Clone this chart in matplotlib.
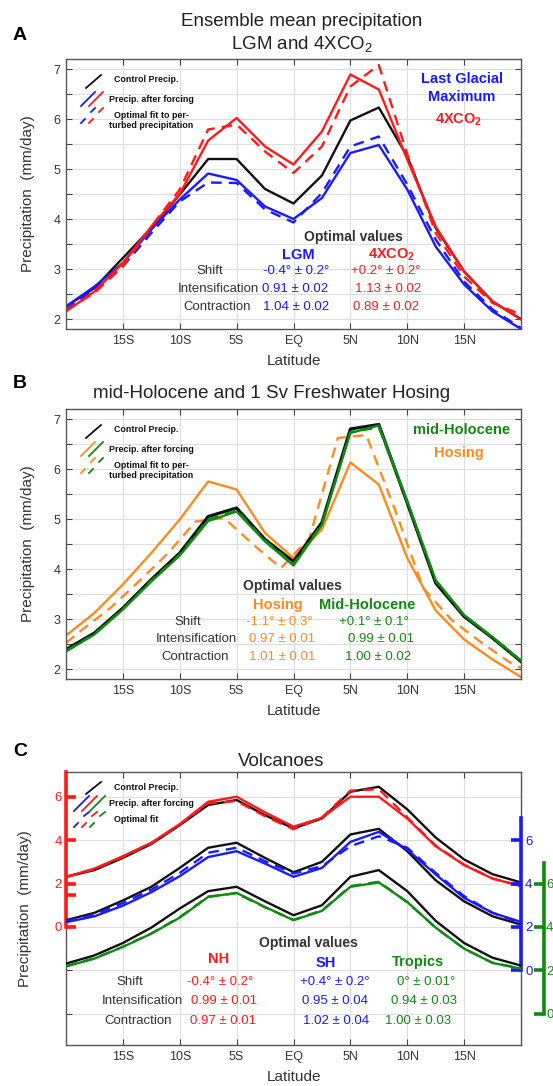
import matplotlib
matplotlib.use("Agg")
import matplotlib.pyplot as plt

plt.rcParams["font.family"] = ["Liberation Sans", "DejaVu Sans"]
plt.rcParams["mathtext.fontset"] = "custom"
plt.rcParams["mathtext.rm"] = "Liberation Sans"
plt.rcParams["mathtext.bf"] = "Liberation Sans:bold"
plt.rcParams["mathtext.it"] = "Liberation Sans:italic"

# ---------------- data ----------------
lat = [-20, -17.5, -15, -12.5, -10, -7.5, -5, -2.5, 0, 2.5, 5, 7.5, 10, 12.5, 15, 17.5, 20]
lat_ticks = [-15, -10, -5, 0, 5, 10, 15]
lat_labels = ["15S", "10S", "5S", "EQ", "5N", "10N", "15N"]

# panel A: LGM and 4xCO2
ctrl_a = [2.25, 2.62, 3.22, 3.82, 4.49, 5.20, 5.20, 4.60, 4.31, 4.87, 5.97, 6.23, 5.25, 3.82, 2.95, 2.35, 2.00]
co2 = [2.15, 2.55, 3.12, 3.85, 4.50, 5.57, 6.02, 5.45, 5.09, 5.75, 6.89, 6.59, 5.19, 3.85, 2.95, 2.35, 1.99]
co2_fit = [2.18, 2.52, 3.05, 3.85, 4.59, 5.79, 5.89, 5.35, 4.92, 5.45, 6.65, 7.08, 5.30, 3.72, 2.85, 2.32, 2.09]
lgm = [2.25, 2.65, 3.12, 3.79, 4.39, 4.91, 4.78, 4.25, 4.00, 4.42, 5.32, 5.48, 4.59, 3.45, 2.69, 2.15, 1.80]
lgm_fit = [2.19, 2.59, 3.05, 3.72, 4.35, 4.73, 4.72, 4.19, 3.93, 4.52, 5.45, 5.65, 4.69, 3.59, 2.75, 2.19, 1.82]

# panel B: mid-Holocene and hosing
ctrl_b = [2.39, 2.72, 3.22, 3.79, 4.32, 5.05, 5.22, 4.59, 4.15, 4.93, 6.80, 6.89, 5.32, 3.72, 3.05, 2.62, 2.15]
mh = [2.35, 2.69, 3.19, 3.75, 4.27, 4.96, 5.15, 4.55, 4.07, 4.88, 6.72, 6.87, 5.36, 3.78, 3.08, 2.64, 2.17]
mh_fit = [2.36, 2.70, 3.20, 3.77, 4.29, 4.99, 5.18, 4.57, 4.10, 4.90, 6.74, 6.83, 5.34, 3.76, 3.07, 2.63, 2.16]
hosing = [2.67, 3.12, 3.69, 4.32, 4.99, 5.75, 5.59, 4.72, 4.22, 4.79, 6.13, 5.69, 4.22, 3.17, 2.59, 2.19, 1.84]
lat_hosing_fit = [-20, -18.6, -16.1, -13.6, -11.1, -8.6, -6.1, -3.6, -1.1, 1.4, 3.9, 6.4, 8.9, 11.4, 13.9, 16.4, 18.9, 20]
hosing_fit = [2.52, 2.78, 3.22, 3.75, 4.30, 4.95, 5.02, 4.50, 4.02, 4.62, 6.62, 6.68, 5.20, 3.62, 2.98, 2.55, 2.15, 2.02]

# panel C: volcanoes (each set on its own axis)
ctrl_nh = [2.31, 2.62, 3.18, 3.82, 4.69, 5.62, 5.85, 5.15, 4.54, 5.00, 6.23, 6.46, 5.42, 4.12, 3.11, 2.43, 2.05]
nh = [2.31, 2.69, 3.26, 3.88, 4.74, 5.77, 6.00, 5.28, 4.62, 5.03, 6.00, 6.00, 5.00, 3.72, 2.85, 2.23, 1.88]
nh_fit = [2.30, 2.66, 3.22, 3.85, 4.72, 5.70, 5.80, 5.10, 4.50, 5.05, 6.28, 6.35, 5.05, 3.75, 2.87, 2.23, 1.90]
ctrl_sh = [2.31, 2.65, 3.22, 3.85, 4.72, 5.65, 5.88, 5.18, 4.52, 5.00, 6.26, 6.52, 5.49, 4.15, 3.18, 2.49, 2.11]
sh = [2.22, 2.49, 2.98, 3.60, 4.34, 5.22, 5.49, 4.92, 4.31, 4.72, 5.92, 6.38, 5.57, 4.42, 3.34, 2.65, 2.23]
sh_fit = [2.26, 2.57, 3.10, 3.72, 4.49, 5.42, 5.65, 5.03, 4.46, 4.80, 5.72, 6.18, 5.65, 4.49, 3.42, 2.65, 2.18]
ctrl_tr = [2.31, 2.69, 3.26, 3.97, 4.85, 5.65, 5.85, 5.18, 4.54, 5.00, 6.31, 6.62, 5.65, 4.28, 3.26, 2.58, 2.22]
tr = [2.18, 2.54, 3.08, 3.69, 4.43, 5.38, 5.57, 4.92, 4.31, 4.74, 5.85, 6.05, 5.15, 3.97, 3.00, 2.34, 2.08]
tr_fit = [2.20, 2.56, 3.09, 3.70, 4.45, 5.40, 5.55, 4.90, 4.33, 4.76, 5.88, 6.08, 5.14, 3.96, 3.00, 2.35, 2.09]

row_names = ["Shift", "Intensification", "Contraction"]
vals_lgm = ["-0.4\u00b0 \u00b1 0.2\u00b0", "0.91 \u00b1 0.02", "1.04 \u00b1 0.02"]
vals_co2 = ["+0.2\u00b0 \u00b1 0.2\u00b0", "1.13 \u00b1 0.02", "0.89 \u00b1 0.02"]
vals_hos = ["-1.1\u00b0 \u00b1 0.3\u00b0", "0.97 \u00b1 0.01", "1.01 \u00b1 0.01"]
vals_mh = ["+0.1\u00b0 \u00b1 0.1\u00b0", "0.99 \u00b1 0.01", "1.00 \u00b1 0.02"]
vals_nh = ["-0.4\u00b0 \u00b1 0.2\u00b0", "0.99 \u00b1 0.01", "0.97 \u00b1 0.01"]
vals_sh = ["+0.4\u00b0 \u00b1 0.2\u00b0", "0.95 \u00b1 0.04", "1.02 \u00b1 0.04"]
vals_tr = ["0\u00b0 \u00b1 0.01\u00b0", "0.94 \u00b1 0.03", "1.00 \u00b1 0.03"]

# ---------------- style ----------------
RED = "#ff1a1a"
BLUE = "#1a1aff"
GREEN = "#108a10"
ORANGE = "#ff8a1c"
BLACK = "#111111"
GRAY_TXT = "#333333"
LW = 1.7
DASH = (0, (4.5, 3))

W, H = 553, 1086
fig = plt.figure(figsize=(W / 100, H / 100), dpi=100)


def make_axes(box):
    l, t, r, b = box
    return fig.add_axes([l / W, 1 - b / H, (r - l) / W, (b - t) / H])


def af(box, x, y):
    # pixel position -> axes fraction
    l, t, r, b = box
    return (x - l) / (r - l), (b - y) / (b - t)


def put(ax, box, x, y, s, **kw):
    fx, fy = af(box, x, y)
    kw.setdefault("ha", "center")
    kw.setdefault("va", "center")
    ax.text(fx, fy, s, transform=ax.transAxes, clip_on=False, **kw)


def seg(ax, box, x0, y0, x1, y1, color):
    # short legend stroke, pixel coords relative to the box top-left
    l, t = box[0], box[1]
    p0 = af(box, l + x0, t + y0)
    p1 = af(box, l + x1, t + y1)
    ax.plot([p0[0], p1[0]], [p0[1], p1[1]], color=color, lw=1.3,
            transform=ax.transAxes, clip_on=False)


def style_axes(ax, ylim, yticks, ylabels):
    ax.set_xlim(-20, 20)
    ax.set_ylim(*ylim)
    ax.set_xticks(lat_ticks, lat_labels)
    ax.set_yticks(yticks, ylabels)
    ax.grid(True, color="#dedede", linewidth=0.8)
    ax.set_axisbelow(True)
    ax.tick_params(direction="in", length=4, color="#444444", labelcolor=GRAY_TXT,
                   labelsize=9, top=True, right=True, pad=4)
    for s in ax.spines.values():
        s.set_color("#555555")
        s.set_linewidth(1.0)


def legend_ab(ax, box, colors):
    # offsets measured from the top-left corner of the axes box
    seg(ax, box, 20, 29, 35, 16, BLACK)
    for i, c in enumerate(colors):
        dx = 8 * i
        seg(ax, box, 15 + dx, 47, 29 + dx, 33, c)
        seg(ax, box, 15 + dx, 64, 19 + dx, 60, c)
        seg(ax, box, 25 + dx, 53, 29 + dx, 49, c)
    l, t = box[0], box[1]
    kw = dict(fontsize=6.4, fontweight="bold", color=BLACK, ha="left")
    put(ax, box, l + 48, t + 21, "Control Precip.", **kw)
    put(ax, box, l + 43, t + 40, "Precip. after forcing", **kw)
    put(ax, box, l + 48, t + 56, "Optimal fit to per-", **kw)
    put(ax, box, l + 43, t + 67, "turbed precipitation", **kw)


def values_table(ax, box, ys, name_x, cols):
    for y, name, nx in zip(ys, row_names, name_x):
        put(ax, box, nx, y, name, fontsize=9.5, color=GRAY_TXT)
    for xs, vals, c in cols:
        for y, x, v in zip(ys, xs, vals):
            put(ax, box, x, y, v, fontsize=9.5, color=c)


yt_ab = [2, 2.5, 3, 3.5, 4, 4.5, 5, 5.5, 6, 6.5, 7]
yl_ab = ["2", "", "3", "", "4", "", "5", "", "6", "", "7"]

# ---------------- panel A ----------------
boxA = (66, 59, 521, 329)
axA = make_axes(boxA)
style_axes(axA, (1.8, 7.2), yt_ab, yl_ab)
axA.plot(lat, ctrl_a, color=BLACK, lw=LW)
axA.plot(lat, lgm, color=BLUE, lw=LW)
axA.plot(lat, lgm_fit, color=BLUE, lw=LW, linestyle=DASH)
axA.plot(lat, co2, color=RED, lw=LW)
axA.plot(lat, co2_fit, color=RED, lw=LW, linestyle=DASH)
legend_ab(axA, boxA, [BLUE, RED])
put(axA, boxA, 462, 79, "Last Glacial", fontsize=10.5, fontweight="bold", color=BLUE)
put(axA, boxA, 462, 97, "Maximum", fontsize=10.5, fontweight="bold", color=BLUE)
put(axA, boxA, 459, 120, r"4XCO$_\mathbf{2}$", fontsize=10.5, fontweight="bold", color=RED)
put(axA, boxA, 353, 237, "Optimal values", fontsize=10, fontweight="bold", color=GRAY_TXT)
put(axA, boxA, 298, 255, "LGM", fontsize=10.5, fontweight="bold", color=BLUE)
put(axA, boxA, 392, 255, r"4XCO$_\mathbf{2}$", fontsize=10.5, fontweight="bold", color=RED)
values_table(axA, boxA, [271, 289, 307], [210, 218, 217],
             [([296, 295, 296], vals_lgm, BLUE), ([386, 388, 386], vals_co2, RED)])
fig.text(302 / W, 1 - 22 / H, "Ensemble mean precipitation", ha="center", va="center",
         fontsize=13.5, color="#222222")
fig.text(302 / W, 1 - 44 / H, r"LGM and 4XCO$_2$", ha="center", va="center",
         fontsize=13.5, color="#222222")

# ---------------- panel B ----------------
boxB = (66, 409, 521, 679)
axB = make_axes(boxB)
style_axes(axB, (1.8, 7.2), yt_ab, yl_ab)
axB.plot(lat, hosing, color=ORANGE, lw=LW)
axB.plot(lat_hosing_fit, hosing_fit, color=ORANGE, lw=LW, linestyle=DASH)
axB.plot(lat, ctrl_b, color=BLACK, lw=LW + 0.6)
axB.plot(lat, mh, color=GREEN, lw=LW)
axB.plot(lat, mh_fit, color=GREEN, lw=LW, linestyle=DASH)
legend_ab(axB, boxB, [ORANGE, GREEN])
put(axB, boxB, 462, 430, "mid-Holocene", fontsize=10.5, fontweight="bold", color=GREEN)
put(axB, boxB, 459, 453, "Hosing", fontsize=10.5, fontweight="bold", color=ORANGE)
put(axB, boxB, 292, 586, "Optimal values", fontsize=10, fontweight="bold", color=GRAY_TXT)
put(axB, boxB, 278, 605, "Hosing", fontsize=10.5, fontweight="bold", color=ORANGE)
put(axB, boxB, 367, 605, "Mid-Holocene", fontsize=10.5, fontweight="bold", color=GREEN)
values_table(axB, boxB, [622, 639, 657], [188, 196, 195],
             [([279, 282, 282], vals_hos, ORANGE), ([374, 381, 378], vals_mh, GREEN)])
fig.text(272 / W, 1 - 393 / H, "mid-Holocene and 1 Sv Freshwater Hosing", ha="center",
         va="center", fontsize=13.5, color="#222222")

# ---------------- panel C ----------------
boxC = (66, 772, 521, 1045)
axC = make_axes(boxC)
ylim_nh = (-5.44, 7.14)
style_axes(axC, ylim_nh, [-4, -2, 0, 2, 4, 6], ["", "", "", "", "", ""])
axC.tick_params(axis="y", labelleft=False)


def side_axis(offset, side, color, shift, bounds, ticks, labels, pad=3):
    t = axC.twinx()
    t.set_ylim(ylim_nh[0] + shift, ylim_nh[1] + shift)
    for s in t.spines.values():
        s.set_visible(False)
    sp = t.spines[side]
    sp.set_visible(True)
    sp.set_color(color)
    sp.set_linewidth(2.6)
    sp.set_bounds(*bounds)
    sp.set_position(("axes", offset))
    if side == "left":
        t.yaxis.tick_left()
    else:
        t.yaxis.tick_right()
    t.set_yticks(ticks, labels)
    t.tick_params(axis="y", direction="in", length=7, width=2.6, color=color,
                  labelcolor=color, labelsize=9.5, pad=pad)
    return t


axN = side_axis(0.0, "left", RED, 0, (0, 7.14), [0, 1.45, 2, 4, 6], ["0", "", "2", "4", "6"])
axS = side_axis(1.0, "right", BLUE, 2, (0, 7.0), [0, 2, 4, 6], ["0", "2", "4", "6"])
axT = side_axis(af(boxC, 544, 0)[0], "right", GREEN, 4, (0, 6.95), [0, 2, 4, 6],
                ["0", "2", "4", "6"], pad=1.5)

axN.plot(lat, ctrl_nh, color=BLACK, lw=LW)
axN.plot(lat, nh, color=RED, lw=LW)
axN.plot(lat, nh_fit, color=RED, lw=LW, linestyle=DASH)
axS.plot(lat, ctrl_sh, color=BLACK, lw=LW)
axS.plot(lat, sh, color=BLUE, lw=LW)
axS.plot(lat, sh_fit, color=BLUE, lw=LW, linestyle=DASH)
axT.plot(lat, ctrl_tr, color=BLACK, lw=LW)
axT.plot(lat, tr, color=GREEN, lw=LW)
axT.plot(lat, tr_fit, color=GREEN, lw=LW, linestyle=DASH)

# legend for panel C (three colours)
seg(axC, boxC, 20, 22, 35, 10, BLACK)
for i, c in enumerate([BLUE, RED, GREEN]):
    dx = 8 * i
    seg(axC, boxC, 8 + dx, 39, 23 + dx, 24, c)
    seg(axC, boxC, 8 + dx, 55, 12 + dx, 51, c)
    seg(axC, boxC, 18 + dx, 44, 23 + dx, 40, c)
kwt = dict(fontsize=6.4, fontweight="bold", color=BLACK, ha="left")
put(axC, boxC, 114, 788, "Control Precip.", **kwt)
put(axC, boxC, 109, 803, "Precip. after forcing", **kwt)
put(axC, boxC, 114, 820, "Optimal fit", **kwt)

put(axC, boxC, 308, 943, "Optimal values", fontsize=10, fontweight="bold", color=GRAY_TXT)
put(axC, boxC, 219, 959, "NH", fontsize=10.5, fontweight="bold", color=RED)
put(axC, boxC, 326, 963, "SH", fontsize=10.5, fontweight="bold", color=BLUE)
put(axC, boxC, 418, 962, "Tropics", fontsize=10.5, fontweight="bold", color=GREEN)
values_table(axC, boxC, [982, 1001, 1021], [130, 142, 138],
             [([220, 224, 223], vals_nh, RED), ([335, 335, 336], vals_sh, BLUE),
              ([426, 424, 418], vals_tr, GREEN)])
fig.text(281 / W, 1 - 762 / H, "Volcanoes", ha="center", va="center",
         fontsize=13.5, color="#222222")

# ---------------- shared labels ----------------
for (box, ylx) in [(boxA, 28), (boxB, 28), (boxC, 25)]:
    l, t, r, b = box
    fig.text(ylx / W, 1 - (t + b) / 2 / H, "Precipitation  (mm/day)", rotation=90,
             ha="center", va="center", fontsize=11, color=GRAY_TXT)
    fig.text((l + r) / 2 / W, 1 - (b + 32) / H, "Latitude", ha="center", va="center",
             fontsize=11, color=GRAY_TXT)
fig.text(20 / W, 1 - 36 / H, "A", ha="center", va="center", fontsize=14, fontweight="bold")
fig.text(20 / W, 1 - 384 / H, "B", ha="center", va="center", fontsize=14, fontweight="bold")
fig.text(20 / W, 1 - 751 / H, "C", ha="center", va="center", fontsize=14, fontweight="bold")

fig.savefig("out.png", dpi=100)
